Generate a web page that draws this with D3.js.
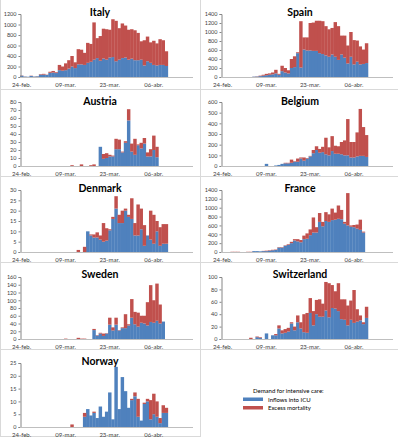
<!DOCTYPE html>
<html><head><meta charset="utf-8">
<script src="https://cdn.jsdelivr.net/npm/d3@7/dist/d3.min.js"></script>
<style>
html,body{margin:0;padding:0;background:#fff;}
svg{display:block;}
text{font-family:Lato,"Liberation Sans",sans-serif;}
</style></head><body>
<svg id="c" width="401" height="440"></svg>
<script>
// ---- categories & labels ----
const categories = ["24-feb.","25-feb.","26-feb.","27-feb.","28-feb.","29-feb.",
 "01-mar.","02-mar.","03-mar.","04-mar.","05-mar.","06-mar.","07-mar.","08-mar.","09-mar.","10-mar.","11-mar.","12-mar.","13-mar.","14-mar.","15-mar.","16-mar.","17-mar.","18-mar.","19-mar.","20-mar.","21-mar.","22-mar.","23-mar.","24-mar.","25-mar.","26-mar.","27-mar.","28-mar.","29-mar.","30-mar.","31-mar.",
 "01-abr.","02-abr.","03-abr.","04-abr.","05-abr.","06-abr.","07-abr.","08-abr.","09-abr.","10-abr.","11-abr.","12-abr.","13-abr.","14-abr.","15-abr.","16-abr.","17-abr.","18-abr."];
const tickLabels = ["24-feb.","09-mar.","23-mar.","06-abr."];
const seriesNames = ["Inflows into ICU","Excess mortality"];
const legendTitle = "Demand for intensive care:";
const countries = ["Italy","Spain","Austria","Belgium","Denmark","France","Sweden","Switzerland","Norway"];
const yMax  = [1200,1400,80,600,30,1400,160,100,25];
const yStep = [200,200,10,100,5,200,20,20,5];

// ---- series values (index 0 = 24-feb.) ----
const italyInflows = [25,8,5,20,8,12,45,45,40,80,85,75,130,120,130,160,200,170,240,240,230,270,290,330,360,310,350,330,370,380,300,330,360,370,330,350,320,320,330,220,300,270,230,220,230,230,210];
const italyExcess  = [5,2,0,5,2,3,10,15,5,20,30,15,100,80,130,160,200,110,290,280,230,380,340,710,380,470,570,580,530,720,770,600,660,610,570,560,570,520,350,480,470,390,460,420,490,470,280];

const spainInflows = [0,0,0,0,0,0,0,0,0,0,8,10,20,30,40,50,60,80,50,130,100,80,200,220,530,210,610,590,590,580,580,530,510,480,450,500,450,380,500,430,300,450,280,340,280,290,310];
const spainExcess  = [0,0,0,0,0,0,0,0,0,0,2,5,10,20,30,30,40,80,20,120,100,70,200,240,20,1030,270,290,610,630,670,720,730,650,610,590,770,750,420,490,400,550,540,470,400,320,440];

const austriaInflows = [0,0,0,0,0,0,0,0,0,0,0,0,0,0,0,0,0,0,0,0,0,0,0,0,0,24,9,10,12,12,21,21,17,29,57,18,14,26,22,28,12,12,20,11];
const austriaExcess  = [0,0,0,0,0,0,0,0,0,0,0,0,0,0,0,0,1,0,0,2,0,0,1,2,0,0,6,6,2,1,13,12,1,2,14,10,20,1,7,7,5,9,18,13];

const belgiumInflows = [0,0,0,0,0,0,0,0,0,0,0,0,0,0,20,0,0,5,10,20,25,25,30,40,40,70,50,70,90,120,150,125,130,110,100,140,115,115,110,100,100,80,80,90,95,95,85];
const belgiumExcess  = [0,0,0,0,0,0,0,0,0,0,0,0,0,0,0,0,0,0,0,0,5,5,30,5,30,10,30,5,5,30,35,35,50,155,75,140,75,70,115,140,340,145,145,225,440,270,205];

const denmarkInflows = [0,0,0,0,0,0,0,0,0,0,0,0,0,0,0,0,0,0,0,0,0,10,8,7,7,6,5,5.5,10.5,16,21,14,14,20,17,16,8,8,11,3,8,6,4,10,3,4,4];
const denmarkExcess  = [0,0,0,0,0,0,0,0,0,0,0,0,0,0,0,0,0,0,1,0,2.5,0,0.5,1.5,2.5,2,9,6,0.5,1,6,4,6,1,1,10,6,15,10,10,0,14,14,5,9,9.5,9.5];

const franceInflows = [0,0,0,0,0,0,0,0,0,0,20,20,15,20,20,30,40,45,100,100,140,160,200,260,240,220,290,300,380,440,440,680,580,700,680,720,730,750,740,640,600,570,560,530,500,440];
const franceExcess  = [0,0,0,5,5,5,0,0,5,5,0,0,0,5,10,10,10,10,10,10,10,15,30,30,50,50,80,120,130,340,120,200,100,200,170,260,160,300,210,40,730,30,50,90,230,20];

const swedenInflows = [0,0,0,0,0,0,0,0,0,0,0,0,0,0,0,0,0,0,0,0,0,0,0,23,9,14,8,14,37,22,37,22,28,28,35,55,38,32,42,40,35,44,42,47,40,45];
const swedenExcess  = [0,0,0,0,0,0,0,0,0,0,0,0,0,0,1,0,0,0,3,1,1,0,0,3,1,2,6,1,18,8,18,1,2,36,3,48,32,36,18,20,60,95,58,96,49,0];

const switzerlandInflows = [0,0,0,0,0,0,0,0,0,0,0,3,2,0,9,0,6,6,17,9,10,12,25,14,27,17,11,10,42,22,40,36,36,46,35,50,49,45,32,31,22,31,26,28,30,24,34];
const switzerlandExcess  = [0,0,0,0,0,0,0,0,0,2,0,1,1,0,0,0,0,2,5,5,6,6,2,6,11,10,29,32,24,23,23,28,21,46,55,37,28,45,32,33,32,31,53,20,8,3,18];

const norwayInflows = [0,0,0,0,0,0,0,0,0,0,0,0,0,0,0,0,0,0,0,0,4,7,4.5,5.5,3.5,8,4,6,13.5,3,23.5,7,19.5,14,7.5,10.5,12,4,2.5,9,10,3,5,4,1.5,5.5,5.5];
const norwayExcess  = [0,0,0,0,0,0,0,0,0,0,0,0,0,0,0,0,1,0,0,0,1.5,0,0,0.5,0,0,0,0,0,0,0,0,0,0,0,0.5,1.5,7,0,0.5,1,7.5,8,6,2,3,2];

const inflows = [italyInflows,spainInflows,austriaInflows,belgiumInflows,denmarkInflows,franceInflows,swedenInflows,switzerlandInflows,norwayInflows];
const excess  = [italyExcess,spainExcess,austriaExcess,belgiumExcess,denmarkExcess,franceExcess,swedenExcess,switzerlandExcess,norwayExcess];

// ---- layout ----
const colors = ["#4F81BD","#C0504D"];
const colX = [0,200];
const axisOff = [20,21];
const rowTop = [0,89,176,262,349];
const plotTop = [14,102,190,277,363];
const plotBot = [77,166,252,339,427];

const svg = d3.select("#c");

// panel borders
const border = "#d9d9d9";
svg.append("line").attr("x1",200.5).attr("x2",200.5).attr("y1",0).attr("y2",437).attr("stroke",border);
[89,176,262,349].forEach(y=>{
  svg.append("line").attr("x1",0).attr("x2",398).attr("y1",y+0.5).attr("y2",y+0.5).attr("stroke",border);
});
svg.append("line").attr("x1",0.5).attr("x2",0.5).attr("y1",0).attr("y2",437).attr("stroke",border);
svg.append("line").attr("x1",0).attr("x2",200).attr("y1",436.5).attr("y2",436.5).attr("stroke",border);

countries.forEach((name,i)=>{
  const col = i%2, row = Math.floor(i/2);
  const x0 = colX[col];
  const g = svg.append("g");
  const x = d3.scaleBand().domain(d3.range(categories.length)).range([x0+axisOff[col], x0+193]).padding(0);
  const y = d3.scaleLinear().domain([0,yMax[i]]).range([plotBot[row], plotTop[row]]);
  const table = categories.map((c,k)=>({k, a: inflows[i][k]||0, b: excess[i][k]||0}));
  const stacked = d3.stack().keys(["a","b"])(table);
  stacked.forEach((s,si)=>{
    g.append("g").selectAll("rect").data(s.filter(d=>d[1]-d[0]>0)).join("rect")
      .attr("x",d=>x(d.data.k))
      .attr("width",x.bandwidth()+0.3)
      .attr("y",d=>y(d[1]))
      .attr("height",d=>y(d[0])-y(d[1]))
      .attr("fill",colors[si]);
  });
  // y axis
  const ya = g.append("g").attr("transform",`translate(${x0+axisOff[col]+0.5},0)`)
    .call(d3.axisLeft(y).tickValues(d3.range(0,yMax[i]+yStep[i]/2,yStep[i])).tickSize(2).tickPadding(2).tickFormat(d3.format("d")));
  ya.select(".domain").attr("stroke","#868686");
  ya.selectAll(".tick line").attr("stroke","#868686");
  ya.selectAll("text").attr("font-size",5.5).attr("fill","#404040").attr("font-family","Lato,sans-serif");
  // x axis line
  g.append("line").attr("x1",x0+axisOff[col]).attr("x2",x0+193).attr("y1",plotBot[row]+0.5).attr("y2",plotBot[row]+0.5).attr("stroke","#bfbfbf");
  // x labels
  tickLabels.forEach(t=>{
    const k = categories.indexOf(t);
    g.append("text").attr("x",x(k)+x.bandwidth()/2).attr("y",plotBot[row]+10)
      .attr("text-anchor","middle").attr("font-size",6).attr("fill","#404040").text(t);
  });
  // title
  g.append("text").attr("x",x0+100).attr("y",rowTop[row]+16).attr("text-anchor","middle")
    .attr("font-size",10.5).attr("font-weight","bold").attr("fill","#000").text(name);
});

// legend
const lg = svg.append("g");
lg.append("text").attr("x",253).attr("y",393).attr("font-size",6).attr("fill","#000").text(legendTitle);
seriesNames.forEach((s,si)=>{
  const yy = 399.5 + si*8.5;
  lg.append("rect").attr("x",243).attr("y",yy-2).attr("width",20).attr("height",3.5).attr("fill",colors[si]);
  lg.append("text").attr("x",268).attr("y",yy+2).attr("font-size",6).attr("fill","#000").text(s);
});
</script>
</body></html>
